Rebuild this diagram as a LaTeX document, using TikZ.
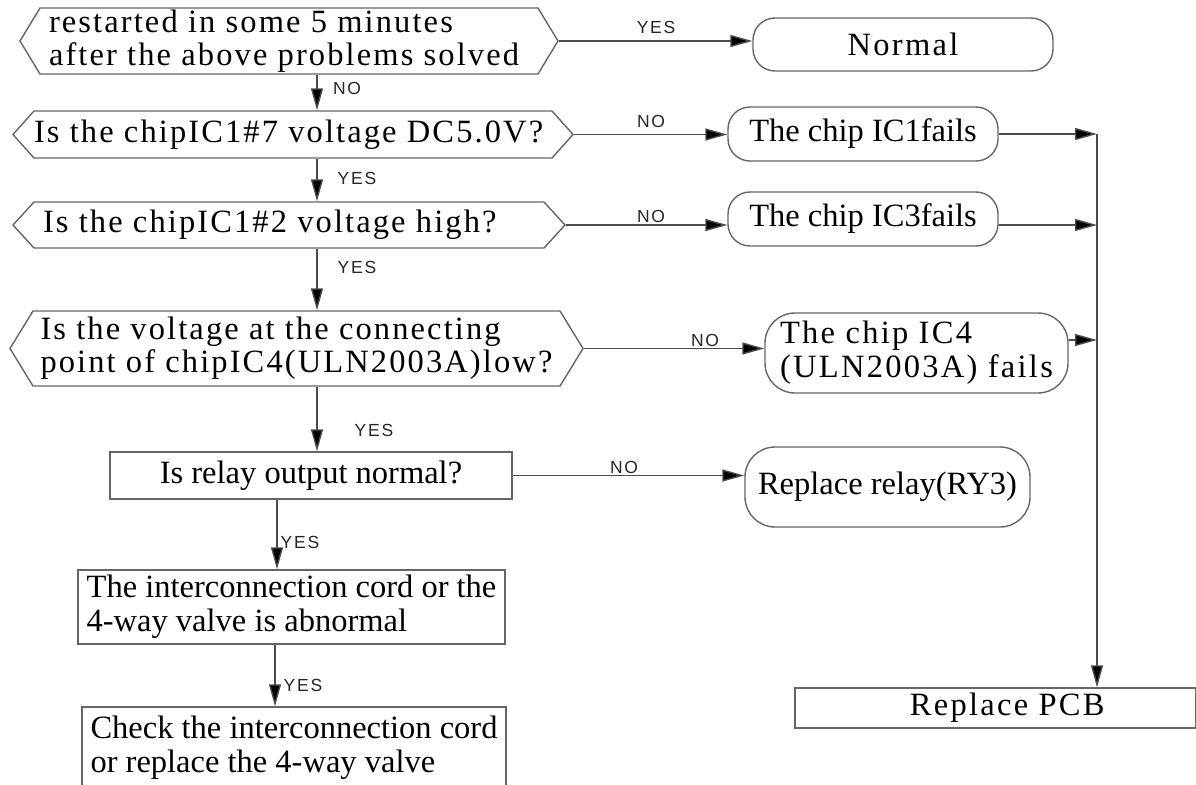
\documentclass[tikz,border=0pt]{standalone}
\usepackage{fontspec}
\setmainfont{Liberation Serif}
\newfontfamily\labfont{Liberation Sans}[LetterSpace=10]
\usetikzlibrary{arrows.meta,shapes.symbols}
\newcommand\mybody{\fontsize{32.5}{34}\selectfont}
\newcommand\myhex{\fontsize{32.5}{33}\selectfont\addfontfeature{LetterSpace=6.5}}
\newcommand\myspaced{\fontsize{32.5}{34}\selectfont\addfontfeature{LetterSpace=7}}
\newcommand\lw[2]{\makebox[#1pt][l]{#2}}
\begin{document}
\begin{tikzpicture}[x=1pt,y=-1pt,
  line/.style={draw=black!60,line width=1.4pt},
  arr/.style={draw=black!70,line width=1.4pt,-{Triangle[length=22pt,width=12pt,fill=black]}},
  hexbox/.style={line,signal,signal to=west and east,inner sep=0pt,font=\myhex,align=left},
  rbox/.style={line,rectangle,rounded corners=22pt,inner sep=0pt,font=\mybody,align=center},
  sbox/.style={line,rectangle,inner sep=0pt,font=\mybody,align=center},
  lab/.style={font=\labfont\fontsize{17.5}{19}\selectfont,text=black!85,inner sep=0pt}]
\useasboundingbox (0,0) rectangle (1196,784);
\fill[white] (0,0) rectangle (1196,784);
\clip (0,0) rectangle (1196,784);

% decision hexagons
\node[hexbox,minimum width=538pt,minimum height=66pt,signal pointer angle=117.6] (h1) at (289,41)
  {\lw{480}{restarted in some 5 minutes}\\after the above problems solved};
\node[hexbox,minimum width=550pt,minimum height=47pt,signal pointer angle=96.4] (h2) at (293,134.5)
  {\lw{518}{Is the chipIC1\#7 voltage DC5.0V?}};
\node[hexbox,minimum width=552pt,minimum height=46pt,signal pointer angle=95.2] (h3) at (289,225)
  {\lw{492}{Is the chipIC1\#2 voltage high?}};
\node[hexbox,minimum width=573pt,minimum height=75pt,signal pointer angle=117] (h4) at (296.5,348.5)
  {\lw{512}{Is the voltage at the connecting}\\point of chipIC4(ULN2003A)low?};

% left column boxes
\node[sbox,minimum width=402pt,minimum height=47pt] (relay) at (311,475.5) {Is relay output normal?};
\node[sbox,minimum width=427pt,minimum height=74pt,align=left] (inter) at (291.5,607)
  {The interconnection cord or the\\4-way valve is abnormal};
\node[sbox,minimum width=424pt,minimum height=82pt,align=left] (check) at (294,748)
  {Check the interconnection cord\\or replace the 4-way valve};

% right column terminals
\node[rbox,minimum width=300pt,minimum height=53pt,font=\myspaced] (normal) at (903,44.5) {Normal};
\node[rbox,minimum width=270pt,minimum height=54pt] (ic1) at (863,134) {The chip IC1fails};
\node[rbox,minimum width=270pt,minimum height=54pt] (ic3) at (863,219) {The chip IC3fails};
\node[rbox,rounded corners=30pt,minimum width=303pt,minimum height=80pt,font=\myspaced,align=left] (ic4) at (916.5,353)
  {The chip IC4\\(ULN2003A) fails};
\node[rbox,rounded corners=30pt,minimum width=285pt,minimum height=80pt] (ry3) at (887.5,487) {Replace relay(RY3)};
\node[sbox,minimum width=400.5pt,minimum height=40pt,font=\myspaced] (pcb) at (995.25,708) {\hspace*{24pt}Replace PCB};

% helper columns
\coordinate (cx) at (317,0);
\coordinate (cx2) at (277,0);
\coordinate (cx3) at (275,0);
\coordinate (bus) at (1097,0);

% vertical flow
\draw[arr] (h1.south -| cx) -- (h2.north -| cx);
\draw[arr] (h2.south -| cx) -- (h3.north -| cx);
\draw[arr] (h3.south -| cx) -- (h4.north -| cx);
\draw[arr] (h4.south -| cx) -- (relay.north -| cx);
\draw[arr] (relay.south -| cx2) -- (inter.north -| cx2);
\draw[arr] (inter.south -| cx3) -- (check.north -| cx3);

% horizontal branches
\draw[arr] (h1.east) -- (h1.east -| normal.west);
\draw[arr] (h2.east) -- (h2.east -| ic1.west);
\draw[arr] (h3.east) -- (h3.east -| ic3.west);
\draw[arr] (h4.east) -- (h4.east -| ic4.west);
\draw[arr] (relay.east) -- (relay.east -| ry3.west);

% to bus
\draw[arr] (ic1.east) -- (ic1.east -| bus);
\draw[arr] ([yshift=-6pt]ic3.east) -- ([yshift=-6pt]ic3.east -| bus);
\draw[arr] ([yshift=13pt]ic4.east) -- ([yshift=13pt]ic4.east -| bus);
\draw[arr] (ic1.east -| bus) -- (pcb.north -| bus);

% labels
\node[lab] (y1) at (656,27) {YES};
\node[lab] (n1) at (347,88) {NO};
\node[lab] (n2) at (651,121) {NO};
\node[lab] (y2) at (357,178) {YES};
\node[lab] (n3) at (651,216) {NO};
\node[lab] (y3) at (357,267) {YES};
\node[lab] (n4) at (705,340) {NO};
\node[lab] (y4) at (374,430) {YES};
\node[lab] (n5) at (624,467) {NO};
\node[lab] (y5) at (300,542) {YES};
\node[lab] (y6) at (303,685) {YES};
\end{tikzpicture}
\end{document}
